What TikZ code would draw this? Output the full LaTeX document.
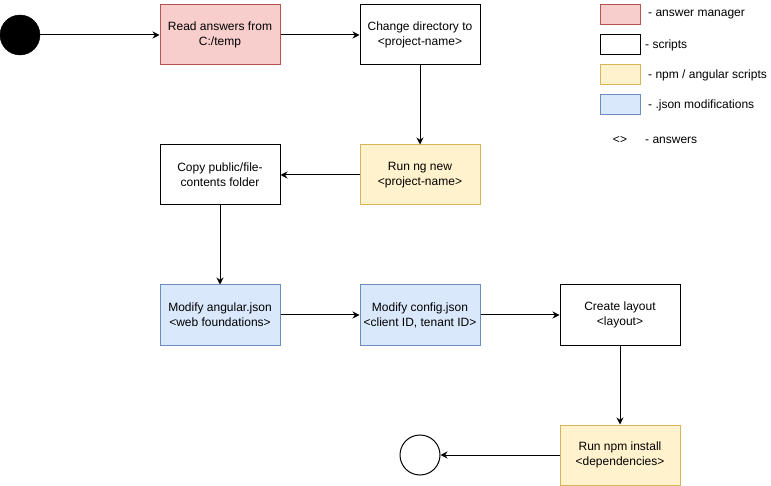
\documentclass[tikz,border=0pt]{standalone}
\usepackage{fontspec}
\setmainfont{Liberation Sans}
\usetikzlibrary{arrows.meta}

\definecolor{mgrfill}{HTML}{F8CECC}
\definecolor{mgrline}{HTML}{B85450}
\definecolor{ngfill}{HTML}{FFF2CC}
\definecolor{ngline}{HTML}{D6B656}
\definecolor{jsonfill}{HTML}{DAE8FC}
\definecolor{jsonline}{HTML}{6C8EBF}

\tikzset{
	box/.style={draw, line width=1pt, minimum width=120pt, minimum height=60pt, align=center, inner sep=0pt, font=\fontsize{12}{15}\selectfont},
	mgr/.style={box, fill=mgrfill, draw=mgrline},
	script/.style={box, fill=white, draw=black},
	ng/.style={box, fill=ngfill, draw=ngline},
	json/.style={box, fill=jsonfill, draw=jsonline},
	key/.style={minimum width=40pt, minimum height=20pt, minimum height=20pt},
	keytext/.style={anchor=west, inner sep=0pt, font=\fontsize{12}{15}\selectfont},
	flow/.style={line width=1pt, -{Stealth[length=7pt,width=7pt]}}
}

\begin{document}
\begin{tikzpicture}[x=1pt,y=-1pt]
	\useasboundingbox (0,0) rectangle (771,486);
	\node[circle, fill=black, draw=black, minimum size=40pt, inner sep=0pt] (start) at (20,35) {};
	\node[mgr] (read) at (220,35) {Read answers from\\C:/temp};
	\node[script] (chdir) at (420,35) {Change directory to\\<project-name>};
	\node[ng] (ngnew) at (420,175) {Run ng new\\<project-name>};
	\node[script] (copy) at (220,175) {Copy public/file-\\contents folder};
	\node[json] (angular) at (220,315) {Modify angular.json\\<web foundations>};
	\node[json] (config) at (420,315) {Modify config.json\\<client ID, tenant ID>};
	\node[script] (layout) at (620,315) {Create layout\\<layout>};
	\node[ng] (npm) at (620,455) {Run npm install\\<dependencies>};
	\node[circle, draw=black, line width=1pt, fill=white, minimum size=40pt, inner sep=0pt] (stop) at (420,455) {};
	\draw[flow] (start) -- (read);
	\draw[flow] (read) -- (chdir);
	\draw[flow] (chdir) -- (ngnew);
	\draw[flow] (ngnew) -- (copy);
	\draw[flow] (copy) -- (angular);
	\draw[flow] (angular) -- (config);
	\draw[flow] (config) -- (layout);
	\draw[flow] (layout) -- (npm);
	\draw[flow] (npm) -- (stop);
	\node[mgr, key] (keymgr) at (620,15) {};
	\node[script, key] (keyscript) at (620,45) {};
	\node[ng, key] (keyng) at (620,75) {};
	\node[json, key] (keyjson) at (620,105) {};
	\node[keytext] (txtmgr) at (648,15) {- answer manager};
	\node[keytext] (txtscript) at (645,45) {- scripts};
	\node[keytext] (txtng) at (648,75) {- npm / angular scripts};
	\node[keytext] (txtjson) at (648,105) {- .json modifications};
	\node[keytext, anchor=center] (keyans) at (620,140) {<>};
	\node[keytext] (txtans) at (645,140) {- answers};
\end{tikzpicture}
\end{document}
